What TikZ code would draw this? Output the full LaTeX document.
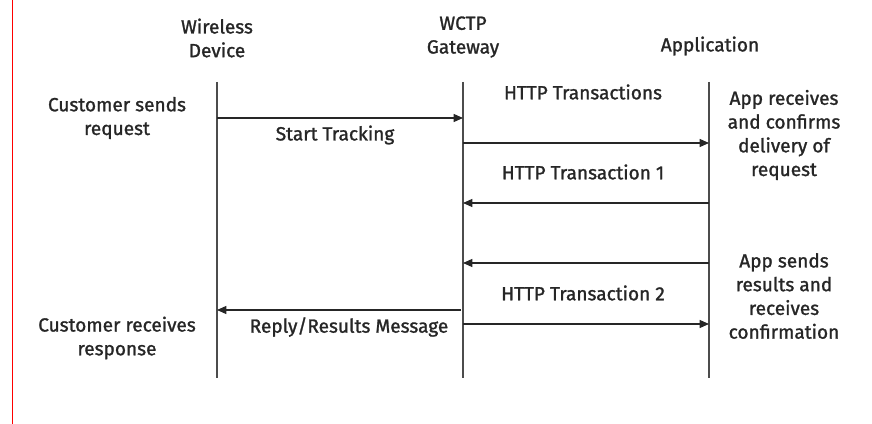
\documentclass[tikz,border=0pt]{standalone}
\usepackage{fontspec}
\setmainfont{Fira Sans}[FakeBold=1.3]
\usetikzlibrary{arrows.meta}
\begin{document}
\begin{tikzpicture}[x=0.75pt,y=-0.75pt,
  life/.style={draw=black!70,line width=0.9pt},
  msg/.style={draw=black!85,line width=0.9pt,-{Triangle[length=7pt,width=6pt]}},
  lbl/.style={font=\fontsize{14.3pt}{17.8pt}\selectfont,text=black!85,align=center,inner sep=0pt},
  anchor=center]
\useasboundingbox (0,0) rectangle (872,424);
\draw[red,line width=1.2pt] (12.5,0) -- (12.5,424);
% lifelines
\coordinate (wdT) at (217,82); \coordinate (wdB) at (217,378);
\coordinate (gwT) at (463,82); \coordinate (gwB) at (463,378);
\coordinate (apT) at (709,82); \coordinate (apB) at (709,378);
\draw[life] (wdT) -- (wdB);
\draw[life] (gwT) -- (gwB);
\draw[life] (apT) -- (apB);
% headers
\node[lbl] (hwd) at (217,38) {Wireless\\Device};
\node[lbl] (hgw) at (463,37) {WCTP\\Gateway};
\node[lbl] (hap) at (710,46) {Application};
% side labels
\node[lbl] (cs) at (117,118) {Customer sends\\request};
\node[lbl] (cr) at (117,338) {Customer receives\\response};
\node[lbl] (ar) at (784,135) {App receives\\and confirms\\delivery of\\request};
\node[lbl] (as) at (784,296) {App sends\\results and\\receives\\confirmation};
% messages
\coordinate (m1a) at (217,118); \coordinate (m1b) at (463,118);
\draw[msg] (m1a) -- (m1b);
\node[lbl] (m1l) at (335,135) {Start Tracking};
\node[lbl] (httpl) at (583,92) {HTTP Transactions};
\coordinate (m2a) at (463,143); \coordinate (m2b) at (709,143);
\draw[msg] (m2a) -- (m2b);
\node[lbl] (t1l) at (583,172) {HTTP Transaction 1};
\coordinate (m3a) at (709,203); \coordinate (m3b) at (463,203);
\draw[msg] (m3a) -- (m3b);
\coordinate (m4a) at (709,263); \coordinate (m4b) at (463,263);
\draw[msg] (m4a) -- (m4b);
\node[lbl] (t2l) at (583,293) {HTTP Transaction 2};
\coordinate (m5a) at (463,324); \coordinate (m5b) at (709,324);
\draw[msg] (m5a) -- (m5b);
\coordinate (m6a) at (461,310); \coordinate (m6b) at (217,310);
\draw[msg] (m6a) -- (m6b);
\node[lbl] (m6l) at (349,327) {Reply/Results Message};
\end{tikzpicture}
\end{document}
